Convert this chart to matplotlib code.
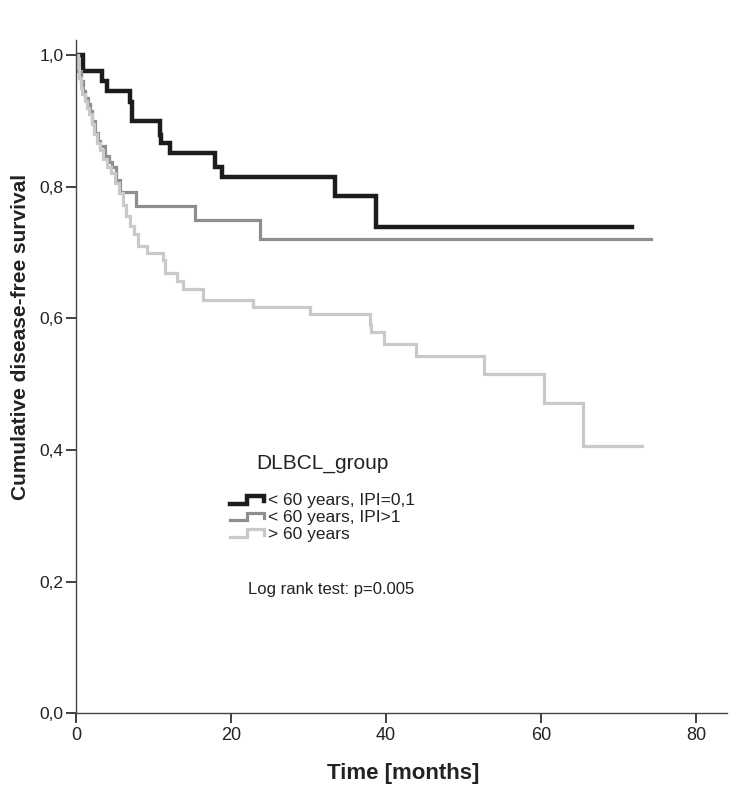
import numpy as np
import matplotlib
matplotlib.use("Agg")
import matplotlib.pyplot as plt
from matplotlib.legend_handler import HandlerBase
from matplotlib.lines import Line2D
from matplotlib import font_manager

plt.rcParams['font.family'] = ['Liberation Sans', 'DejaVu Sans']

# step curves: event times (months) and survival after each step
t_young_low = [0, 0.9, 3.3, 3.95, 7.0, 7.2, 10.8, 11.0, 12.1, 18.0, 18.8, 33.4, 38.7, 71.8]
s_young_low = [1.0, 0.976, 0.960, 0.945, 0.929, 0.899, 0.879, 0.866, 0.851, 0.830, 0.815, 0.785, 0.739, 0.739]

t_young_high = [0, 0.3, 0.6, 0.9, 1.2, 1.5, 1.8, 2.1, 2.4, 2.8, 3.1, 3.7, 4.2, 4.6, 5.2, 5.7, 7.8, 15.3, 23.7, 74.2]
s_young_high = [1.0, 0.975, 0.960, 0.945, 0.935, 0.925, 0.915, 0.900, 0.882, 0.870, 0.861, 0.846, 0.838, 0.830,
                0.810, 0.792, 0.771, 0.749, 0.721, 0.721]

t_old = [0, 0.2, 0.4, 0.6, 0.8, 1.1, 1.4, 1.7, 2.0, 2.3, 2.7, 3.1, 3.5, 4.0, 4.5, 5.0, 5.5, 6.0, 6.5, 7.0,
         7.5, 8.0, 9.1, 11.2, 11.5, 13.0, 13.8, 16.4, 22.8, 30.2, 37.9, 38.1, 39.8, 43.9, 52.6,
         60.4, 65.4, 73.1]
s_old = [1.0, 0.980, 0.965, 0.950, 0.940, 0.930, 0.920, 0.910, 0.895, 0.880, 0.866, 0.855, 0.842, 0.830,
         0.820, 0.805, 0.790, 0.772, 0.755, 0.740, 0.728, 0.710, 0.699, 0.688, 0.669, 0.656, 0.645, 0.627,
         0.617, 0.607, 0.589, 0.579, 0.561, 0.542, 0.515, 0.472, 0.406, 0.406]

labels = ['< 60 years, IPI=0,1', '< 60 years, IPI>1', '> 60 years']
colors = ['#1c1c1c', '#8e8e8e', '#c9c9c9']
widths = [3.2, 2.3, 2.3]

xticks = [0, 20, 40, 60, 80]
yticks = [0.0, 0.2, 0.4, 0.6, 0.8, 1.0]

names = {f.name for f in font_manager.fontManager.ttflist}
narrow = 'Liberation Sans Narrow' if 'Liberation Sans Narrow' in names else 'Liberation Sans'


class StepHandler(HandlerBase):
    def create_artists(self, legend, orig_handle, xdescent, ydescent, width, height, fontsize, trans):
        lo = -ydescent + height * 0.1
        hi = -ydescent + height * 0.75
        xs = np.array([0, 0.45, 0.45, 0.93, 0.93]) * width - xdescent
        ys = [lo, lo, hi, hi, lo + height * 0.2]
        ln = Line2D(xs, ys, color=orig_handle.get_color(), lw=orig_handle.get_linewidth(),
                    solid_joinstyle='miter', transform=trans)
        return [ln]


fig = plt.figure(figsize=(7.38, 7.96), dpi=100)
ax = fig.add_axes([0.103, 0.104, 0.882, 0.846])

handles = []
for t, s, lab, c, w in zip([t_young_low, t_young_high, t_old],
                           [s_young_low, s_young_high, s_old], labels, colors, widths):
    h, = ax.step(t, s, where='post', color=c, lw=w, label=lab, solid_joinstyle='miter')
    handles.append(h)

ax.set_xlim(0, 84)
ax.set_ylim(0, 1.023)
ax.set_xticks(xticks)
ax.set_yticks(yticks)
ax.set_yticklabels([f"{v:.1f}".replace('.', ',') for v in yticks])
ax.spines['top'].set_visible(False)
ax.spines['right'].set_visible(False)
for sp in ['left', 'bottom']:
    ax.spines[sp].set_color('#444444')
    ax.spines[sp].set_linewidth(1.0)
ax.tick_params(axis='both', length=7, width=1.3, color='#333333', labelcolor='#222222')
ax.tick_params(axis='x', labelsize=13, pad=3)
ax.tick_params(axis='y', labelsize=12.5, pad=2)
for lbl in ax.get_xticklabels():
    lbl.set_family(narrow)

ax.set_xlabel('Time [months]', fontsize=16, fontweight='bold', color='#222222')
ax.set_ylabel('Cumulative disease-free survival', fontsize=15, fontweight='bold', color='#222222')
ax.xaxis.set_label_coords(0.503, -0.089)
ax.xaxis.label.set_va('center')
ax.yaxis.set_label_coords(-0.086, 0.559)
ax.yaxis.label.set_va('center')

leg = ax.legend(handles=handles, labels=labels, handler_map={Line2D: StepHandler()},
                title='DLBCL_group', frameon=False, fontsize=12.5, title_fontsize=15,
                loc='upper left', bbox_to_anchor=(0.237, 0.385), borderaxespad=0, borderpad=0,
                handlelength=2.1, handletextpad=0.1, labelspacing=0.1)
for txt in leg.get_texts():
    txt.set_color('#222222')
leg.get_title().set_color('#222222')
leg._legend_box.sep = 14

ax.text(0.264, 0.183, 'Log rank test: p=0.005', transform=ax.transAxes, fontsize=12,
        color='#222222', va='center')

fig.savefig('out.png', dpi=100)
